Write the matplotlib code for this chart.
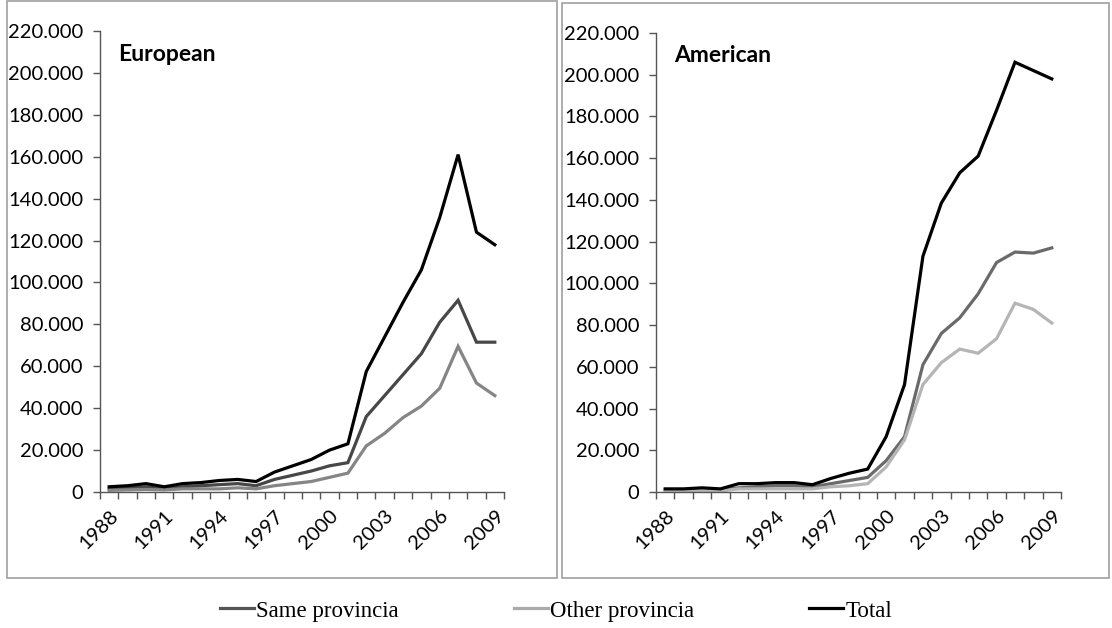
import matplotlib
matplotlib.use('Agg')
import matplotlib.pyplot as plt
import matplotlib.ticker as mticker
from matplotlib.patches import Rectangle
import numpy as np

years = list(range(1988, 2010))

# values in thousands
eu_same = [1.5, 2, 2.5, 1.5, 2.5, 3, 3.5, 4, 3, 6, 8, 10, 12.5, 14, 36, 46, 56, 66, 81, 91.5, 71.5, 71.5]
eu_other = [0.8, 1, 1.2, 1, 1.5, 1.5, 1.5, 2, 1.5, 3, 4, 5, 7, 9, 22, 28, 35.5, 41, 49.5, 69.5, 52, 46]
eu_total = [2.5, 3, 4, 2.5, 4, 4.5, 5.5, 6, 5, 9.5, 12.5, 15.5, 20, 23, 57.5, 74, 90.5, 106, 131, 161, 124, 118]

am_same = [1, 1, 1.2, 1, 2, 2.5, 3, 3, 2.5, 4, 5.5, 7, 15, 26.5, 61, 76, 83.5, 95, 110, 115, 114.5, 117]
am_other = [0.5, 0.5, 0.8, 0.5, 1.5, 1.5, 1.5, 1.5, 1.5, 2.5, 3, 4, 12, 25, 51.5, 62, 68.5, 66.5, 73.5, 90.5, 87.5, 81]
am_total = [1.5, 1.5, 2, 1.5, 4, 4, 4.5, 4.5, 3.5, 6.5, 9, 11, 26.5, 51.5, 113, 138.5, 153, 161, 183, 206, 202, 198]

labels = ['Same provincia', 'Other provincia', 'Total']

plt.rcParams['font.family'] = ['Lato', 'DejaVu Sans']

fig = plt.figure(figsize=(11.12, 6.28), dpi=100)

# panel frames
fig.add_artist(Rectangle((7 / 1112, 1 - 578 / 628), 550 / 1112, 577 / 628, transform=fig.transFigure,
                         fill=False, edgecolor='#a0a0a0', linewidth=1.2))
fig.add_artist(Rectangle((562 / 1112, 1 - 578 / 628), 547 / 1112, 575 / 628, transform=fig.transFigure,
                         fill=False, edgecolor='#a0a0a0', linewidth=1.2))


def panel(rect, title, same, other, total, c_same, c_other):
    ax = fig.add_axes(rect)
    x = np.arange(len(years))
    ax.plot(x, np.array(same) * 1000, color=c_same, lw=2.3, solid_joinstyle='miter')
    ax.plot(x, np.array(other) * 1000, color=c_other, lw=2.3, solid_joinstyle='miter')
    ax.plot(x, np.array(total) * 1000, color='black', lw=2.3, solid_joinstyle='miter')
    ax.set_xlim(-0.5, len(years) - 0.5)
    ax.set_ylim(0, 220000)
    ax.set_yticks(np.arange(0, 220001, 20000))
    ax.yaxis.set_major_formatter(mticker.FuncFormatter(
        lambda v, p: '0' if v == 0 else '{:,.0f}'.format(v).replace(',', '.')))
    ax.set_xticks(x[::3])
    ax.set_xticklabels([str(y) for y in years[::3]], rotation=45, ha='right',
                       rotation_mode='anchor')
    ax.set_xticks(np.arange(-0.5, len(years)), minor=True)
    ax.tick_params(axis='x', which='major', length=0, labelsize=14.5, pad=11)
    ax.tick_params(axis='x', which='minor', length=5, width=1, color='#555555')
    ax.tick_params(axis='y', length=5, width=1, color='#555555', labelsize=14.5, pad=7)
    for s in ['top', 'right']:
        ax.spines[s].set_visible(False)
    for s in ['left', 'bottom']:
        ax.spines[s].set_color('#555555')
        ax.spines[s].set_linewidth(1)
    ax.text(0.045, 0.95, title, transform=ax.transAxes, fontsize=16.5, fontweight='bold',
            va='center', ha='left')
    return ax


ax1 = panel([100 / 1112, 1 - 492 / 628, 404 / 1112, 461 / 628], 'European',
            eu_same, eu_other, eu_total, '#474747', '#858585')
ax2 = panel([656 / 1112, 1 - 492 / 628, 405 / 1112, 459 / 628], 'American',
            am_same, am_other, am_total, '#6a6a6a', '#b5b5b5')

handles = [plt.Line2D([], [], color='#555555', lw=2.3),
           plt.Line2D([], [], color='#aaaaaa', lw=2.3),
           plt.Line2D([], [], color='black', lw=2.3)]
fig.legend(handles, labels, loc='center', bbox_to_anchor=(0.5, 1 - 611 / 628), ncol=3,
           frameon=False, prop={'family': 'Liberation Serif', 'size': 16.5},
           handlelength=1.5, handletextpad=0.1, columnspacing=5.0)

fig.savefig('out.png', dpi=100)
